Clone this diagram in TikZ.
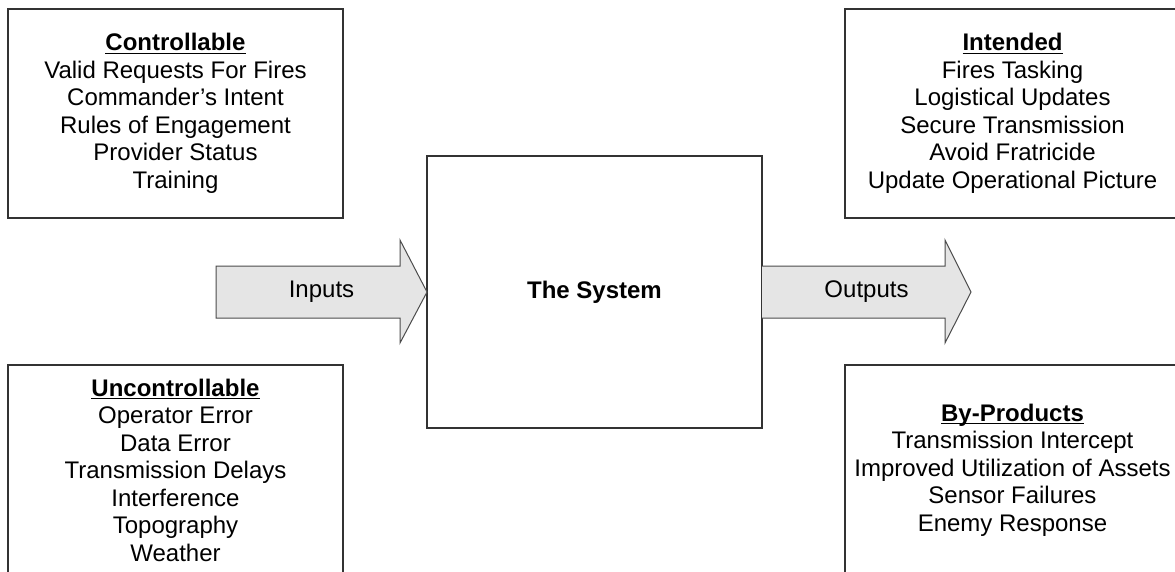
\documentclass[tikz,border=0pt]{standalone}
\usepackage{fontspec}
\setmainfont{Liberation Sans}
\newcommand{\hdr}[1]{\setbox0=\hbox{\bfseries #1}\rlap{\rule[-3.2pt]{\wd0}{1.5pt}}\box0}
\tikzset{
  listbox/.style={draw=black!80, line width=1.3pt, fill=white, minimum width=335pt,
    inner sep=0pt, outer sep=0pt, align=center,
    font=\fontsize{24}{27.5}\selectfont},
  blockarrow/.style={draw=black!70, line width=1pt, fill=gray!20, line join=miter},
  arrowlabel/.style={font=\fontsize{24}{27.5}\selectfont, inner sep=0pt},
}
\begin{document}
\begin{tikzpicture}[x=1pt,y=-1pt]
\clip (0,0) rectangle (1175,571);
\fill[white] (0,0) rectangle (1175,571);
\node[listbox, minimum height=209pt] (ctrl) at (175.5,113.5)
  {\hdr{Controllable}\\Valid Requests For Fires\\Commander’s Intent\\Rules of Engagement\\Provider Status\\Training};
\node[listbox, minimum height=210pt] (unc) at (175.5,470)
  {\hdr{Uncontrollable}\\Operator Error\\Data Error\\Transmission Delays\\Interference\\Topography\\Weather};
\node[listbox, minimum height=209pt] (int) at (1012.5,113.5)
  {\hdr{Intended}\\Fires Tasking\\Logistical Updates\\Secure Transmission\\Avoid Fratricide\\Update Operational Picture};
\node[listbox, minimum height=210pt] (byp) at (1012.5,470)
  {\hdr{By-Products}\\Transmission Intercept\\Improved Utilization of Assets\\Sensor Failures\\Enemy Response};
\node[listbox, minimum height=272pt, font=\fontsize{24}{27.5}\selectfont\bfseries] (sys) at (594.5,292) {The System};
\draw[blockarrow] (216,266) -- (400,266) -- (400,240) -- (sys.west) -- (400,343) -- (400,318) -- (216,318) -- cycle;
\draw[blockarrow] (sys.east |- 0,266) -- (945,266) -- (945,240) -- (971,292) -- (945,343) -- (945,318) -- (sys.east |- 0,318);
\node[arrowlabel] (inlbl) at (321.5,292) {Inputs};
\node[arrowlabel] (outlbl) at (866.5,292) {Outputs};
\end{tikzpicture}
\end{document}
